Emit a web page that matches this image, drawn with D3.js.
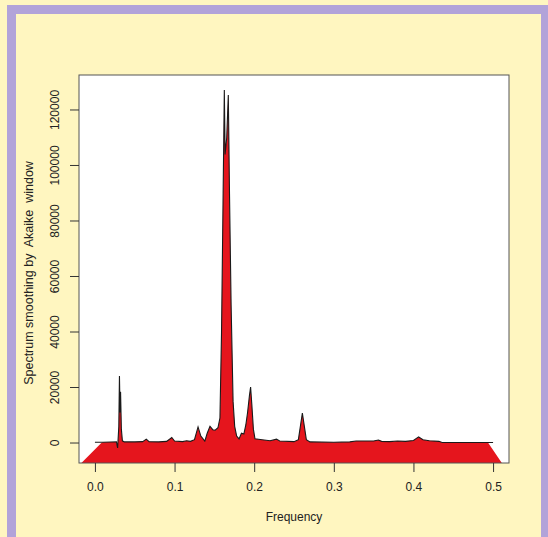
<!DOCTYPE html>
<html>
<head>
<meta charset="utf-8">
<script src="https://cdn.jsdelivr.net/npm/d3@7/dist/d3.min.js"></script>
<style>
  html, body { margin: 0; padding: 0; background: #fff6c0; }
  svg { display: block; }
</style>
</head>
<body>
<script>
// Smoothed spectrum
const frequency = [0.000, 0.010, 0.020, 0.027, 0.0285, 0.0300, 0.0308, 0.0316, 0.0322, 0.0332, 0.0345, 0.037,
  0.050, 0.060, 0.0645, 0.068, 0.080, 0.090, 0.0965, 0.100, 0.110, 0.115, 0.120, 0.125, 0.1295, 0.133, 0.138,
  0.141, 0.1445, 0.148, 0.151, 0.1545, 0.157, 0.159, 0.161, 0.1625, 0.1635, 0.1655, 0.1675, 0.1690, 0.1710,
  0.1735, 0.1755, 0.178, 0.181, 0.184, 0.187, 0.1895, 0.1917, 0.194, 0.1955, 0.1970, 0.1990, 0.2010, 0.210,
  0.220, 0.228, 0.232, 0.250, 0.2555, 0.2580, 0.2605, 0.2630, 0.2655, 0.270, 0.300, 0.320, 0.328, 0.350,
  0.356, 0.360, 0.370, 0.380, 0.390, 0.400, 0.4065, 0.412, 0.420, 0.432, 0.436, 0.460, 0.480, 0.500];
const spectrum = [300, 300, 350, 400, -1800, 6000, 24100, 11000, 18500, 5000, 800, 400,
  400, 500, 1400, 500, 400, 600, 2000, 700, 500, 800, 600, 1200, 5800, 2500, 700,
  3500, 6000, 4800, 4600, 5500, 9000, 40000, 90000, 127200, 104000, 110000, 125400, 90000, 50000,
  15000, 6000, 2500, 1500, 3500, 3200, 6500, 11000, 17000, 20200, 14000, 5000, 1500, 1200,
  800, 1400, 700, 500, 1200, 6000, 10800, 6000, 1200, 400, 300, 400, 700, 700,
  1100, 600, 500, 700, 600, 900, 2200, 1200, 800, 600, 200, 200, 200, 200];

// corners of the filled polygon under the curve
const baseFrequency = [-0.017, 0.008, 0.494, 0.511];
const baseSpectrum = [-7200, 0, 0, -7200];

const xTicks = [0.0, 0.1, 0.2, 0.3, 0.4, 0.5];
const yTicks = [0, 20000, 40000, 60000, 80000, 100000, 120000];

const W = 548, H = 537;
const plot = {left: 79, right: 509, top: 75, bottom: 463};
const font = "'Liberation Sans', Arial, sans-serif";

const svg = d3.select("body").append("svg")
    .attr("width", W)
    .attr("height", H);

// page frame
svg.append("rect").attr("width", W).attr("height", H).attr("fill", "#fff6c0");
svg.append("rect").attr("x", 7).attr("y", 5).attr("width", W - 7).attr("height", 9).attr("fill", "#b2a3d9");
svg.append("rect").attr("x", 7).attr("y", 5).attr("width", 9).attr("height", H - 5).attr("fill", "#b2a3d9");
svg.append("rect").attr("x", 541).attr("y", 5).attr("width", 7).attr("height", H - 5).attr("fill", "#b2a3d9");

// scales
const xScale = d3.scaleLinear().domain([-0.02, 0.52]).range([plot.left, plot.right]);
const yScale = d3.scaleLinear().domain([-7200, 132600]).range([plot.bottom, plot.top]);

svg.append("clipPath").attr("id", "plotClip")
  .append("rect")
    .attr("x", plot.left).attr("y", plot.top)
    .attr("width", plot.right - plot.left).attr("height", plot.bottom - plot.top);

svg.append("rect")
    .attr("x", plot.left).attr("y", plot.top)
    .attr("width", plot.right - plot.left).attr("height", plot.bottom - plot.top)
    .attr("fill", "white");

const data = frequency.map((f, i) => ({f: f, s: spectrum[i]}));
const base = baseFrequency.map((f, i) => ({f: f, s: baseSpectrum[i]}));

const polyData = [base[0], base[1]]
    .concat(data.filter(d => d.f >= base[1].f && d.f <= base[2].f))
    .concat([base[2], base[3]]);

const line = d3.line()
    .x(d => xScale(d.f))
    .y(d => yScale(d.s));

const canvas = svg.append("g").attr("clip-path", "url(#plotClip)");

canvas.append("path")
    .datum(polyData)
    .attr("fill", "#e5151d")
    .attr("stroke", "none")
    .attr("d", line);

canvas.append("path")
    .datum(data)
    .attr("fill", "none")
    .attr("stroke", "#1a1a1a")
    .attr("stroke-width", 1.1)
    .attr("d", line);

// box
svg.append("rect")
    .attr("x", plot.left).attr("y", plot.top)
    .attr("width", plot.right - plot.left).attr("height", plot.bottom - plot.top)
    .attr("fill", "none")
    .attr("stroke", "#555")
    .attr("stroke-width", 1);

// axes
const xAxis = d3.axisBottom(xScale).tickValues(xTicks).tickFormat(d3.format(".1f")).tickSize(9).tickPadding(10);
const xAxisGroup = svg.append("g")
    .attr("transform", `translate(0, ${plot.bottom})`)
    .call(xAxis);
xAxisGroup.select(".domain").remove();

const yAxis = d3.axisLeft(yScale).tickValues(yTicks).tickFormat(d3.format("d")).tickSize(9).tickPadding(0);
const yAxisGroup = svg.append("g")
    .attr("transform", `translate(${plot.left}, 0)`)
    .call(yAxis);
yAxisGroup.select(".domain").remove();
yAxisGroup.selectAll(".tick").attr("transform", null);
yAxisGroup.selectAll(".tick line")
    .attr("y1", d => yScale(d)).attr("y2", d => yScale(d));
yAxisGroup.selectAll("text")
    .attr("x", null).attr("dy", null)
    .attr("text-anchor", "middle")
    .attr("transform", d => `translate(-24, ${yScale(d)}) rotate(-90)`)
    .attr("y", 4);

[xAxisGroup, yAxisGroup].forEach(g => {
  g.selectAll("text")
    .style("font-family", font)
    .style("font-size", "12px")
    .attr("fill", "#222");
  g.selectAll("line").attr("stroke", "#333");
});

// labels
svg.append("text")
    .text("Frequency")
    .attr("x", (plot.left + plot.right) / 2)
    .attr("y", 521)
    .attr("text-anchor", "middle")
    .style("font-family", font)
    .style("font-size", "12px")
    .attr("fill", "#222");

svg.append("text")
    .text("Spectrum smoothing by  Akaike  window")
    .attr("transform", `translate(33, ${(plot.top + plot.bottom) / 2 + 4}) rotate(-90)`)
    .attr("text-anchor", "middle")
    .style("white-space", "pre")
    .style("font-family", font)
    .style("font-size", "12.5px")
    .attr("fill", "#222");
</script>
</body>
</html>
